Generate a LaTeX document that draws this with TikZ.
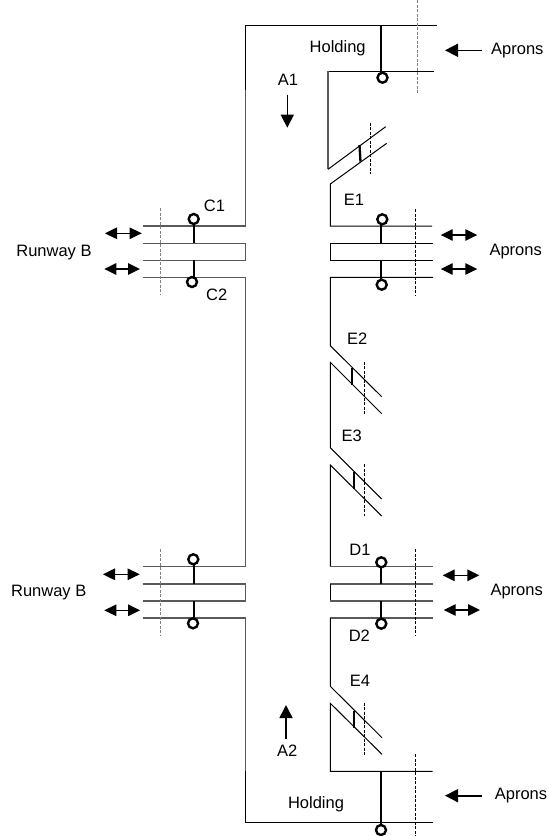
\documentclass[tikz,border=0pt]{standalone}
\usepackage{fontspec}
\setmainfont{Liberation Sans}
\usetikzlibrary{arrows.meta}
\tikzset{
	wall/.style={line width=1pt,black},
	greywall/.style={line width=1.1pt,black!65},
	stopbar/.style={line width=2.3pt,black},
	gate/.style={line width=0.7pt,dash pattern=on 3pt off 1.5pt,black},
	greygate/.style={line width=0.9pt,dash pattern=on 3pt off 1.5pt,black!50},
	lamp/.style={circle,draw,line width=2.4pt,fill=white,minimum size=10pt,inner sep=0pt,outer sep=0pt},
	flow/.style={line width=1.6pt,-{Triangle[length=13pt,width=13pt]}},
	twoway/.style={line width=1.4pt,{Triangle[length=12pt,width=11.5pt]}-{Triangle[length=12pt,width=11.5pt]}},
	lbl/.style={font=\fontsize{16.5}{19}\selectfont,inner sep=0pt}
}
\begin{document}
\begin{tikzpicture}[x=1pt,y=-1pt]
	\useasboundingbox (0,0) rectangle (549,836);
	% left side of the taxiway
	\draw[wall] (436.7,25.3) -- (245.3,25.3) -- (245.3,90);
	\draw[greywall] (245.3,90) -- (245.3,226) -- (142.7,226);
	\draw[greywall] (142.7,243.3) -- (245.3,243.3) -- (245.3,260.3) -- (142.7,260.3);
	\draw[greywall] (142.7,277.3) -- (245.3,277.3) -- (245.3,566.7) -- (142.7,566.7);
	\draw[greywall] (142.7,584) -- (245.3,584) -- (245.3,601) -- (142.7,601);
	\draw[greywall] (142.7,618) -- (245.3,618) -- (245.3,771);
	\draw[wall] (245.3,771) -- (245.3,822.3) -- (432.7,822.3);
	% right side, top to bottom
	\draw[wall] (434,71.3) -- (328,71.3);
	\draw[greywall] (328,71.3) -- (328,169.3);
	\draw[wall] (328,169.3) -- (385.7,126.7);
	\draw[wall] (386.7,143.3) -- (330.3,184) -- (330.3,226) -- (432,226);
	\draw[wall] (433,243.3) -- (330.3,243.3) -- (330.3,260.3) -- (433,260.3);
	\draw[wall] (433,277.3) -- (330.3,277.3) -- (330.3,345.7) -- (381.7,396.7);
	\draw[wall] (381.7,413.7) -- (330.3,362.3) -- (330.3,447.7) -- (381.7,499);
	\draw[wall] (381.7,516) -- (330.3,465) -- (330.3,566.7);
	\draw[greywall] (330.3,566.7) -- (432.7,566.7);
	\draw[greywall] (432.7,584) -- (330.3,584);
	\draw[wall] (330.3,584) -- (330.3,601);
	\draw[greywall] (330.3,601) -- (432.7,601);
	\draw[greywall] (432.7,618) -- (330.3,618);
	\draw[wall] (330.3,618) -- (330.3,686.3) -- (382,737.7);
	\draw[wall] (382,754.3) -- (330.3,703.3) -- (330.3,771.3) -- (432.7,771.3);

	% dashed gate lines
	\draw[greygate] (417,0) -- (417,93);
	\draw[greygate] (160,208) -- (160,295);
	\draw[greygate] (160,549) -- (160,635.7);
	\draw[gate] (370,122.7) -- (370,174);
	\draw[gate] (415.3,209.3) -- (415.3,295);
	\draw[gate] (364.3,361.7) -- (364.3,413.7);
	\draw[gate] (364.3,464) -- (364.3,516);
	\draw[gate] (415.3,549.3) -- (415.3,635.7);
	\draw[gate] (364.3,702.7) -- (364.3,755);
	\draw[gate] (415.3,754.3) -- (415.3,836);

	% stop bars with lamps
	\node[lamp] (topLamp) at (382.5,77.7) {};
	\node[lamp] (e1Lamp) at (382.3,219.3) {};
	\node[lamp] (e1LowLamp) at (381.7,284.7) {};
	\node[lamp] (c1Lamp) at (193.7,219) {};
	\node[lamp] (c2Lamp) at (192,282) {};
	\node[lamp] (b1Lamp) at (193.3,559.3) {};
	\node[lamp] (b2Lamp) at (193,623.3) {};
	\node[lamp] (d1Lamp) at (381.3,562.3) {};
	\node[lamp] (d2Lamp) at (381.3,623.7) {};
	\node[lamp] (botLamp) at (381,830) {};
	\foreach \lampname/\anc/\bx/\by in {topLamp/north/381.3/25.3,e1Lamp/south/381.3/243.3,
		e1LowLamp/north/381.3/260.3,c1Lamp/south/193.7/243.3,c2Lamp/north/193.7/260.3,
		b1Lamp/south/194/584,b2Lamp/north/194/601,d1Lamp/south/381.3/584,
		d2Lamp/north/381.3/601,botLamp/north/381.3/771.3}
		\draw[stopbar] (\bx,\by) -- (\bx,\by |- \lampname.\anc);
	\draw[stopbar] (359.5,145) -- (360.5,161.7);
	\draw[stopbar] (351.7,368.3) -- (351.7,385);
	\draw[stopbar] (354.3,471.7) -- (354.3,489);
	\draw[stopbar] (353.7,711) -- (353.7,727.7);

	% arrows
	\draw[flow] (481.7,50.3) -- (445,50.3);
	\draw[flow] (482,795.7) -- (445,795.7);
	\draw[flow] (287.3,94.7) -- (287.3,127.7);
	\draw[flow] (286,739) -- (286,705);
	\draw[twoway] (440.7,235) -- (477.3,235);
	\draw[twoway] (440.7,269) -- (477.3,269);
	\draw[twoway] (105,233.3) -- (141.7,233.3);
	\draw[twoway] (104.3,269) -- (140,269);
	\draw[twoway] (103,574.3) -- (139.7,574.3);
	\draw[twoway] (104.3,610.3) -- (140,610.3);
	\draw[twoway] (442.7,575.3) -- (479.3,575.3);
	\draw[twoway] (443.7,610) -- (480,610);

	% labels
	\node[lbl] (holdTop) at (337.7,48) {Holding};
	\node[lbl] (holdBot) at (316,804) {Holding};
	\node[lbl] (apronA) at (517.3,50.5) {Aprons};
	\node[lbl] (apronB) at (515.7,251.5) {Aprons};
	\node[lbl] (apronC) at (516.7,591.5) {Aprons};
	\node[lbl] (apronD) at (521,795.5) {Aprons};
	\node[lbl] (runA) at (54,253) {Runway B};
	\node[lbl] (runB) at (48.7,593) {Runway B};
	\node[lbl] (a1) at (288,80) {A1};
	\node[lbl] (a2) at (287.3,751) {A2};
	\node[lbl] (c1) at (214.5,205.5) {C1};
	\node[lbl] (c2) at (216.7,295) {C2};
	\node[lbl] (d1) at (360,550) {D1};
	\node[lbl] (d2) at (359.3,635.7) {D2};
	\node[lbl] (e1) at (354,200) {E1};
	\node[lbl] (e2) at (357.3,338.3) {E2};
	\node[lbl] (e3) at (351.7,435.7) {E3};
	\node[lbl] (e4) at (360,680.7) {E4};
\end{tikzpicture}
\end{document}
